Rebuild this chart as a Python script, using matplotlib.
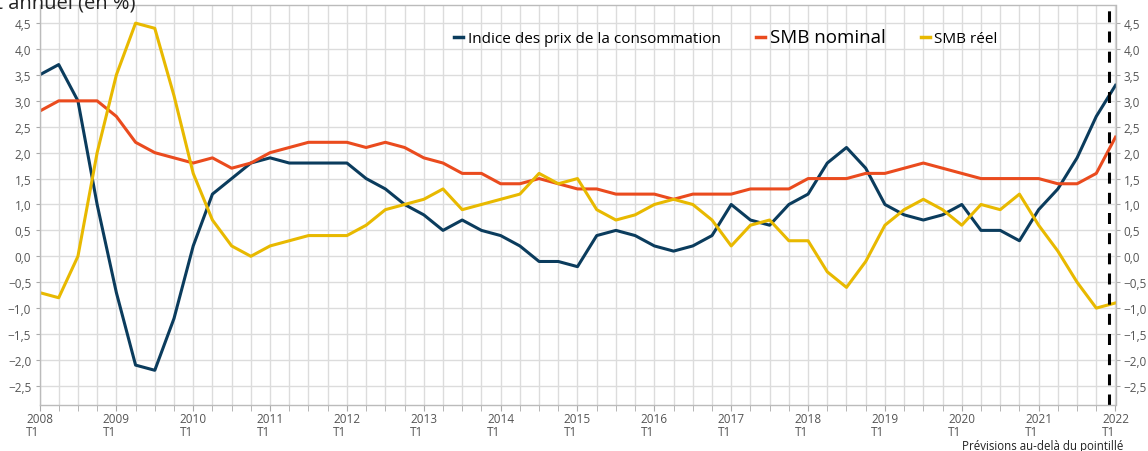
import numpy as np
import matplotlib
matplotlib.use('Agg')
import matplotlib.pyplot as plt

plt.rcParams['font.family'] = ['Open Sans', 'DejaVu Sans']

# ---------------------------------------------------------------------------
# Données trimestrielles, 2008 T1 -> 2022 T1 (glissement annuel, en %)
# ---------------------------------------------------------------------------
years = list(range(2008, 2023))
ipc = [3.5, 3.7, 3.0, 1.0,
       -0.7, -2.1, -2.2, -1.2,
       0.2, 1.2, 1.5, 1.8,
       1.9, 1.8, 1.8, 1.8,
       1.8, 1.5, 1.3, 1.0,
       0.8, 0.5, 0.7, 0.5,
       0.4, 0.2, -0.1, -0.1,
       -0.2, 0.4, 0.5, 0.4,
       0.2, 0.1, 0.2, 0.4,
       1.0, 0.7, 0.6, 1.0,
       1.2, 1.8, 2.1, 1.7,
       1.0, 0.8, 0.7, 0.8,
       1.0, 0.5, 0.5, 0.3,
       0.9, 1.3, 1.9, 2.7,
       3.3]
smb_nominal = [2.8, 3.0, 3.0, 3.0,
               2.7, 2.2, 2.0, 1.9,
               1.8, 1.9, 1.7, 1.8,
               2.0, 2.1, 2.2, 2.2,
               2.2, 2.1, 2.2, 2.1,
               1.9, 1.8, 1.6, 1.6,
               1.4, 1.4, 1.5, 1.4,
               1.3, 1.3, 1.2, 1.2,
               1.2, 1.1, 1.2, 1.2,
               1.2, 1.3, 1.3, 1.3,
               1.5, 1.5, 1.5, 1.6,
               1.6, 1.7, 1.8, 1.7,
               1.6, 1.5, 1.5, 1.5,
               1.5, 1.4, 1.4, 1.6,
               2.3]
smb_reel = [-0.7, -0.8, 0.0, 2.0,
            3.5, 4.5, 4.4, 3.1,
            1.6, 0.7, 0.2, 0.0,
            0.2, 0.3, 0.4, 0.4,
            0.4, 0.6, 0.9, 1.0,
            1.1, 1.3, 0.9, 1.0,
            1.1, 1.2, 1.6, 1.4,
            1.5, 0.9, 0.7, 0.8,
            1.0, 1.1, 1.0, 0.7,
            0.2, 0.6, 0.7, 0.3,
            0.3, -0.3, -0.6, -0.1,
            0.6, 0.9, 1.1, 0.9,
            0.6, 1.0, 0.9, 1.2,
            0.6, 0.1, -0.5, -1.0,
            -0.9]
y_ticks = np.arange(-2.5, 4.51, 0.5)
forecast_pos = 55.65  # pointillé entre 2021 T4 et 2022 T1

c_ipc = '#0b3c5d'
c_nom = '#ea4b1e'
c_reel = '#e8b900'
grid_c = '#dcdcdc'
txt_c = '#555555'

fig = plt.figure(figsize=(11.48, 4.52), dpi=100)
ax = fig.add_axes([39.5 / 1148, 46 / 452, 1076 / 1148, 400 / 452])

x = np.arange(len(ipc))
ax.plot(x, ipc, color=c_ipc, lw=2.2, label='Indice des prix de la consommation')
ax.plot(x, smb_nominal, color=c_nom, lw=2.2, label='SMB nominal')
ax.plot(x, smb_reel, color=c_reel, lw=2.2, label='SMB réel')

ax.axvline(forecast_pos, color='black', lw=2.2, dashes=(3.6, 3.0), ymin=0, ymax=1)

ax.set_xlim(0, len(ipc) - 1)
ax.set_ylim(-2.87, 4.85)

ax.set_xticks(x, minor=True)
ax.set_xticks([4 * i for i in range(len(years))])
ax.set_xticklabels([f'{y}\nT1' for y in years], fontsize=8.5, color=txt_c,
                   multialignment='left', linespacing=1.0)
ax.set_yticks(y_ticks)
ax.set_yticklabels([f'{v:.1f}'.replace('.', ',').replace('-', '\u2212') for v in y_ticks],
                   fontsize=8.5, color=txt_c)

ax.tick_params(axis='y', which='both', left=True, right=True, labelleft=True,
               labelright=True, length=3, color='#aaaaaa', pad=3)
ax.tick_params(axis='x', which='both', length=4, color='#aaaaaa', pad=1)

ax.grid(True, which='both', axis='x', color=grid_c, lw=1)
ax.grid(True, which='major', axis='y', color=grid_c, lw=1)
ax.set_axisbelow(True)
for s in ax.spines.values():
    s.set_color('#bbbbbb')
    s.set_linewidth(1)

leg = ax.legend(loc='center', bbox_to_anchor=(0.638, 0.92), ncol=3, frameon=False,
                fontsize=11, handlelength=0.6, handletextpad=0.3,
                columnspacing=2.3)
for line in leg.get_lines():
    line.set_linewidth(2.5)
leg.get_texts()[1].set_fontsize(13.5)

fig.text(136 / 1148, 1 - 9 / 452, 'Glissement annuel (en %)', ha='right',
         va='baseline', fontsize=14.5, color='#222222')
fig.text(1123 / 1148, 1 - 447 / 452, 'Prévisions au-delà du pointillé',
         ha='right', va='center', fontsize=8.3, color='#222222')

fig.savefig('out.png', dpi=100)
